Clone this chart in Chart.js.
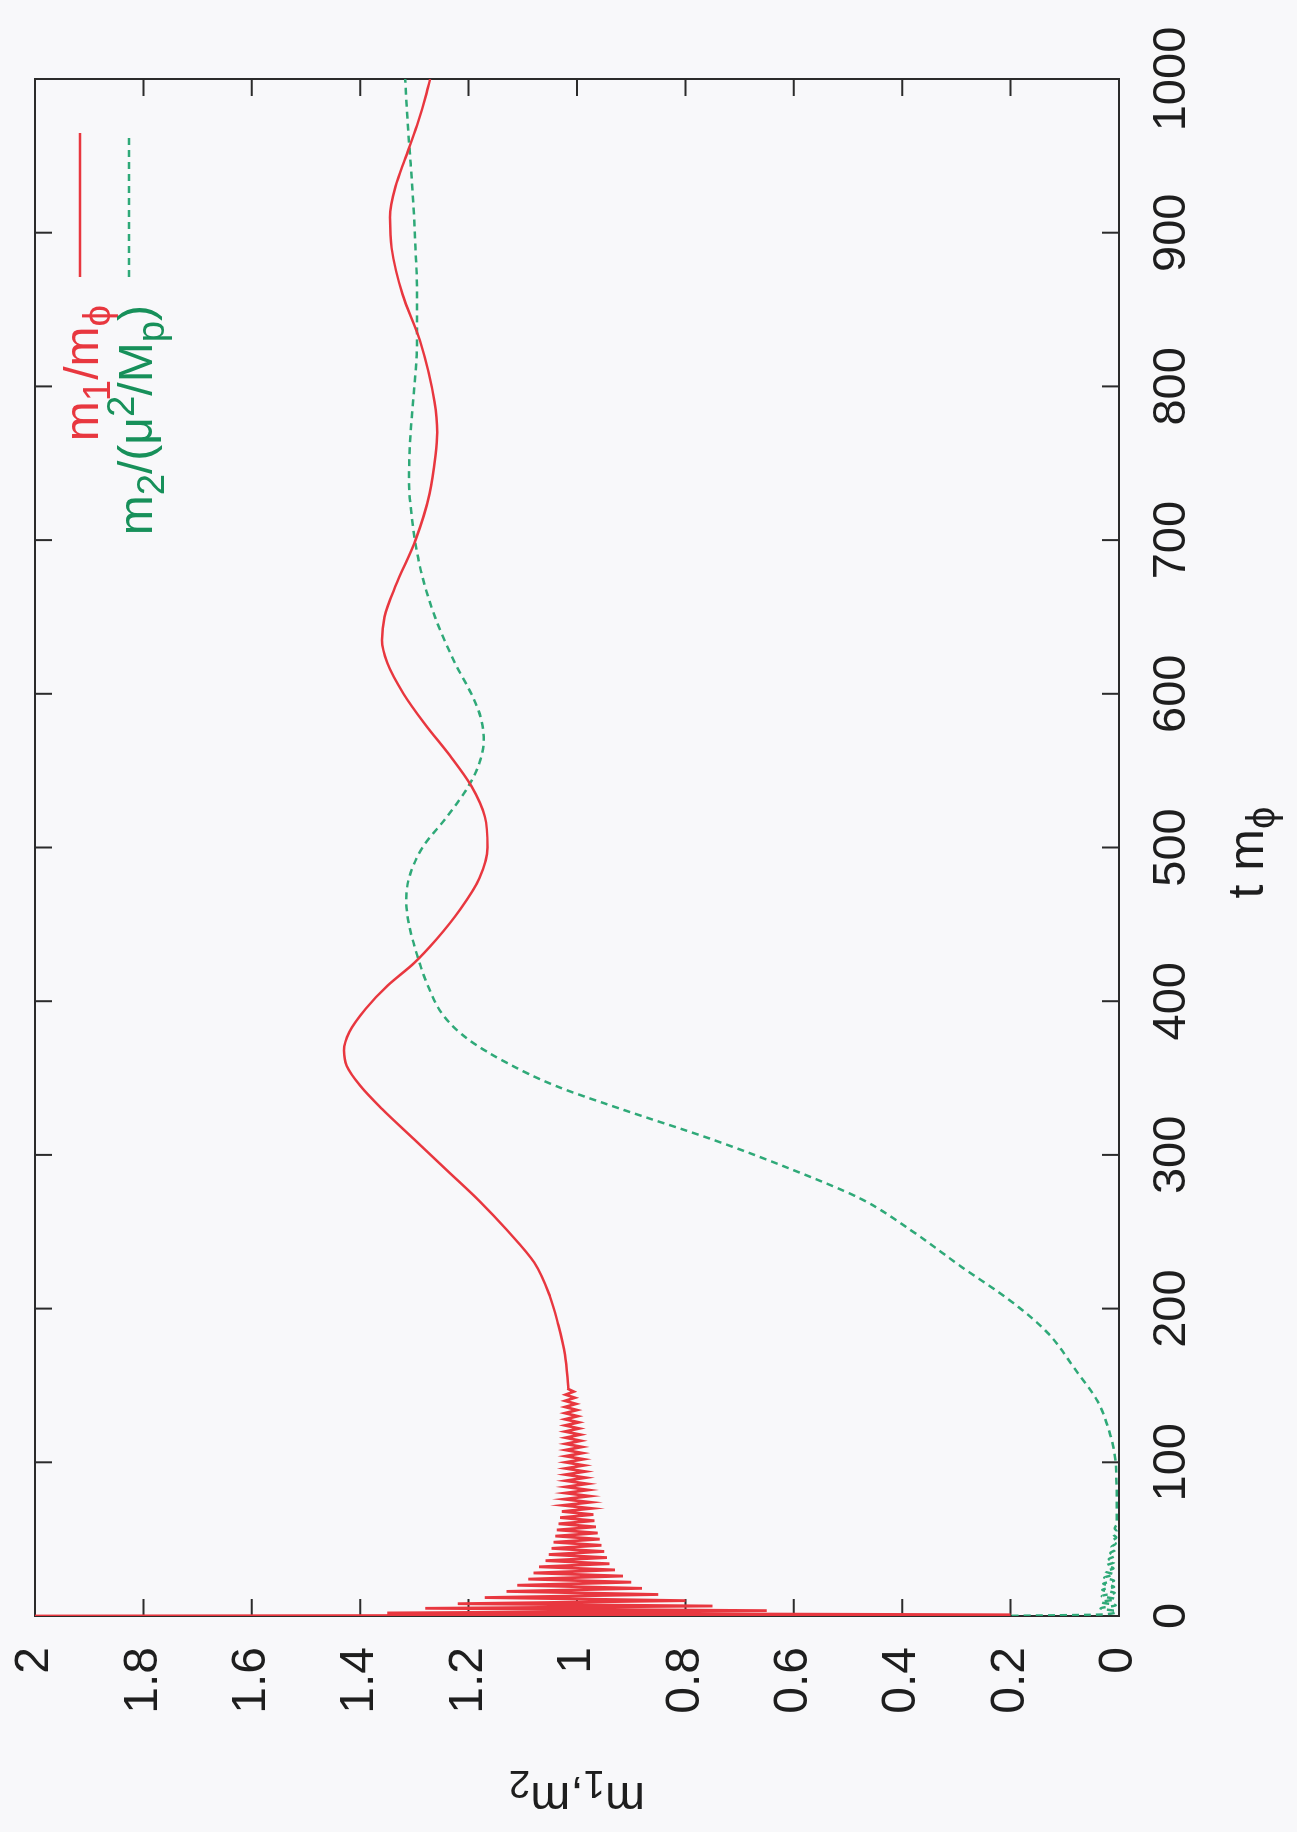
<!DOCTYPE html>
<html>
<head>
<meta charset="utf-8">
<title>m1, m2 vs t m_phi</title>
<script src="https://cdn.jsdelivr.net/npm/chart.js@4.4.1/dist/chart.umd.min.js"></script>
<style>
  html, body { margin: 0; padding: 0; background: #f8f8fa; }
  #page { position: relative; width: 1297px; height: 1832px; overflow: hidden; background: #f8f8fa; }
  /* the whole gnuplot figure is printed turned a quarter turn to the left */
  #rot { position: absolute; left: 0; top: 0; width: 1832px; height: 1297px;
         transform-origin: 0 0; transform: translate(0, 1832px) rotate(-90deg); }
</style>
</head>
<body>
<div id="page"><div id="rot"><canvas id="chart" width="1832" height="1297"></canvas></div></div>
<script>
// ========================================
// DATA
// ========================================
const xTicks = [0, 100, 200, 300, 400, 500, 600, 700, 800, 900, 1000];
const yTicks = [0, 0.2, 0.4, 0.6, 0.8, 1, 1.2, 1.4, 1.6, 1.8, 2];
const yTickLabels = ['0', '0.2', '0.4', '0.6', '0.8', '1', '1.2', '1.4', '1.6', '1.8', '2'];

// m1/m_phi, first part : fast decaying oscillation round 1
const m1OscT = [0, 0.8, 2, 3.5, 5, 6.5, 8,
  10, 12, 14, 16, 18, 20, 22, 24, 26, 28, 30, 32, 34, 36, 38, 40, 42, 44, 46, 48,
  50, 52, 54, 56, 58, 60, 62, 64, 66, 68, 70, 72, 74, 76, 78, 80, 82, 84, 86, 88,
  90, 92, 94, 96, 98, 100, 102, 104, 106, 108, 110, 112, 114, 116, 118, 120, 122, 124, 126, 128,
  130, 132, 134, 136, 138, 140, 142, 144, 146, 148];
const m1OscV = [2.0, 0.2, 1.35, 0.65, 1.28, 0.75, 1.22,
  0.80, 1.17, 0.85, 1.13, 0.88, 1.11, 0.90, 1.09, 0.915, 1.08, 0.93, 1.07, 0.94, 1.058, 0.945, 1.052, 0.95, 1.047, 0.955, 1.043,
  0.958, 1.04, 0.962, 1.037, 0.965, 1.034, 0.968, 1.031, 0.97, 1.028, 0.973, 1.026, 0.975, 1.024, 0.977, 1.022, 0.979, 1.021, 0.981, 1.021,
  0.984, 1.021, 0.985, 1.021, 0.987, 1.021, 0.988, 1.021, 0.99, 1.021, 0.991, 1.021, 0.993, 1.021, 0.994, 1.022, 0.996, 1.022, 0.997, 1.022,
  0.999, 1.022, 1.0, 1.022, 1.002, 1.022, 1.004, 1.021, 1.006, 1.018];

// m1/m_phi, second part : slow wobble
const m1T = [148, 170, 190, 208, 230, 251, 270, 290, 310, 330, 345, 358, 368, 380, 395, 410, 425, 440, 460, 480,
  500, 520, 540, 560, 580, 600, 620, 635, 650, 670, 700, 730, 755, 770, 790, 830, 860, 890, 910, 930,
  950, 970, 990, 1000];
const m1V = [1.016, 1.022, 1.035, 1.05, 1.079, 1.129, 1.18, 1.24, 1.30, 1.36, 1.40, 1.425, 1.43, 1.42, 1.39, 1.35, 1.30, 1.26, 1.215, 1.18,
  1.165, 1.17, 1.195, 1.235, 1.28, 1.32, 1.35, 1.36, 1.355, 1.335, 1.298, 1.272, 1.261, 1.258, 1.263, 1.29, 1.322, 1.342, 1.345, 1.335,
  1.315, 1.295, 1.278, 1.271];

// m2/(mu^2/M_p) : small ripple near 0, then growth and a slower wobble
const m2T = [0, 1, 3, 5, 7, 9, 11, 13, 15, 17, 19, 21, 23, 25, 27, 29, 31, 33, 35, 37, 39,
  41, 43, 45, 47, 49, 51, 53, 55, 57, 60, 70, 80, 90, 100, 119, 140, 160, 184, 205, 227, 250, 271,
  290, 310, 330, 345, 360, 375, 390, 410, 430, 450, 465, 480, 500, 520, 540, 555, 570, 585, 600, 620,
  650, 680, 710, 740, 770, 800, 830, 860, 890, 919, 950, 980, 1000];
const m2V = [0.22, 0.03, 0.005, 0.034, 0.006, 0.033, 0.007, 0.032, 0.008, 0.031, 0.009, 0.029, 0.009, 0.027, 0.01, 0.025, 0.01, 0.022, 0.009, 0.019, 0.008,
  0.016, 0.007, 0.014, 0.006, 0.012, 0.005, 0.01, 0.004, 0.008, 0.004, 0.004, 0.004, 0.005, 0.006, 0.017, 0.04, 0.08, 0.131, 0.2, 0.29, 0.38, 0.474,
  0.6, 0.75, 0.92, 1.04, 1.13, 1.2, 1.245, 1.275, 1.295, 1.31, 1.315, 1.31, 1.285, 1.24, 1.2, 1.18, 1.172, 1.178, 1.195, 1.225,
  1.262, 1.288, 1.303, 1.31, 1.307, 1.3, 1.295, 1.295, 1.298, 1.302, 1.308, 1.314, 1.317];

// rich text pieces: [text, mode] with mode '' | 'sub' | 'sup'
const xTitle = [['t m', ''], ['\u03d5', 'sub']];
const yTitle = [['m', ''], ['1', 'sub'], [',m', ''], ['2', 'sub']];
const legend1 = [['m', ''], ['1', 'sub'], ['/m', ''], ['\u03d5', 'sub']];
const legend2 = [['m', ''], ['2', 'sub'], ['/(\u03bc', ''], ['2', 'sup'], ['/M', ''], ['p', 'sub'], [')', '']];

const RED = '#e8373f';
const GREEN = '#2fa978';
const FONT = '"Liberation Sans", Arial, Helvetica, sans-serif';

// ========================================
// HELPERS
// ========================================
function drawRich(ctx, parts, x, y, size, align) {
  const pieces = parts.map(([txt, mode]) => {
    const s = mode ? size * 0.8 : size;
    ctx.font = `${s}px ${FONT}`;
    return { txt, mode, s, w: ctx.measureText(txt).width };
  });
  const total = pieces.reduce((a, p) => a + p.w, 0);
  let cx = align === 'center' ? x - total / 2 : align === 'right' ? x - total : x;
  ctx.textAlign = 'left';
  ctx.textBaseline = 'alphabetic';
  pieces.forEach(p => {
    ctx.font = `${p.s}px ${FONT}`;
    const dy = p.mode === 'sub' ? size * 0.24 : p.mode === 'sup' ? -size * 0.38 : 0;
    ctx.fillText(p.txt, cx, y + dy);
    cx += p.w;
  });
}

const gnuplotFrame = {
  id: 'gnuplotFrame',
  beforeDraw(chart) {
    const { ctx, width, height } = chart;
    ctx.save();
    ctx.fillStyle = '#f8f8fa';
    ctx.fillRect(0, 0, width, height);
    ctx.restore();
  },
  beforeDatasetsDraw(chart) {
    const { ctx, chartArea: a, scales } = chart;
    const tl = 17;
    ctx.save();
    ctx.strokeStyle = '#2b2b2b';
    ctx.lineWidth = 2;
    ctx.strokeRect(a.left, a.top, a.right - a.left, a.bottom - a.top);
    ctx.beginPath();
    xTicks.forEach(v => {
      const px = scales.x.getPixelForValue(v);
      ctx.moveTo(px, a.bottom); ctx.lineTo(px, a.bottom - tl);
      ctx.moveTo(px, a.top); ctx.lineTo(px, a.top + tl);
    });
    yTicks.forEach(v => {
      const py = scales.y.getPixelForValue(v);
      ctx.moveTo(a.left, py); ctx.lineTo(a.left + tl, py);
      ctx.moveTo(a.right, py); ctx.lineTo(a.right - tl, py);
    });
    ctx.stroke();
    ctx.restore();
  },
  afterDraw(chart) {
    const { ctx, chartArea: a } = chart;
    ctx.save();
    // axis titles
    ctx.fillStyle = '#1e1e1e';
    drawRich(ctx, xTitle, (a.left + a.right) / 2 - 5, a.bottom + 144, 50, 'center');
    ctx.translate(49, (a.top + a.bottom) / 2);
    ctx.rotate(-Math.PI / 2);
    drawRich(ctx, yTitle, 0, 0, 48, 'center');
    ctx.restore();

    // key, top right inside the frame
    ctx.save();
    const textRight = 1527, s0 = 1555, s1 = 1699;
    ctx.fillStyle = RED;
    drawRich(ctx, legend1, textRight, 98, 48, 'right');
    ctx.fillStyle = '#17905a';
    drawRich(ctx, legend2, textRight, 152, 48, 'right');
    ctx.lineWidth = 2.5;
    ctx.strokeStyle = RED;
    ctx.beginPath(); ctx.moveTo(s0, 80); ctx.lineTo(s1, 80); ctx.stroke();
    ctx.strokeStyle = GREEN;
    ctx.setLineDash([7, 5]);
    ctx.beginPath(); ctx.moveTo(s0, 129); ctx.lineTo(s1, 129); ctx.stroke();
    ctx.restore();
  }
};

// ========================================
// CHART
// ========================================
const ctx = document.getElementById('chart');

new Chart(ctx, {
  type: 'line',
  data: {
    datasets: [
      {
        label: 'm1/mphi (oscillation)',
        data: m1OscT.map((t, i) => ({ x: t, y: m1OscV[i] })),
        borderColor: RED,
        borderWidth: 2.8,
        pointRadius: 0,
        tension: 0,
        fill: false
      },
      {
        label: 'm1/mphi',
        data: m1T.map((t, i) => ({ x: t, y: m1V[i] })),
        borderColor: RED,
        borderWidth: 2.5,
        pointRadius: 0,
        cubicInterpolationMode: 'monotone',
        fill: false
      },
      {
        label: 'm2/(mu^2/Mp)',
        data: m2T.map((t, i) => ({ x: t, y: m2V[i] })),
        borderColor: GREEN,
        borderWidth: 2.5,
        borderDash: [7, 5],
        pointRadius: 0,
        cubicInterpolationMode: 'monotone',
        fill: false
      }
    ]
  },
  options: {
    responsive: false,
    animation: false,
    devicePixelRatio: 1,
    layout: { padding: { left: 0, right: 79, top: 35, bottom: 0 } },
    plugins: {
      legend: { display: false },
      tooltip: { enabled: false }
    },
    scales: {
      x: {
        type: 'linear',
        min: 0,
        max: 1000,
        afterBuildTicks: (scale) => { scale.ticks = xTicks.map(v => ({ value: v })); },
        afterFit: (scale) => { scale.height = 178; scale.paddingLeft = 0; scale.paddingRight = 0; },
        grid: { display: false, drawTicks: false },
        border: { display: false },
        ticks: {
          color: '#1e1e1e',
          padding: 25,
          maxRotation: 0,
          font: { size: 47, family: FONT },
          callback: (v) => String(v)
        }
      },
      y: {
        type: 'linear',
        min: 0,
        max: 2,
        afterBuildTicks: (scale) => { scale.ticks = yTicks.map(v => ({ value: v })); },
        afterFit: (scale) => { scale.width = 216; scale.paddingTop = 0; scale.paddingBottom = 0; },
        grid: { display: false, drawTicks: false },
        border: { display: false },
        ticks: {
          color: '#1e1e1e',
          padding: 31,
          font: { size: 48, family: FONT },
          callback: (v) => yTickLabels[yTicks.indexOf(v)] ?? ''
        }
      }
    }
  },
  plugins: [gnuplotFrame]
});
</script>
</body>
</html>
